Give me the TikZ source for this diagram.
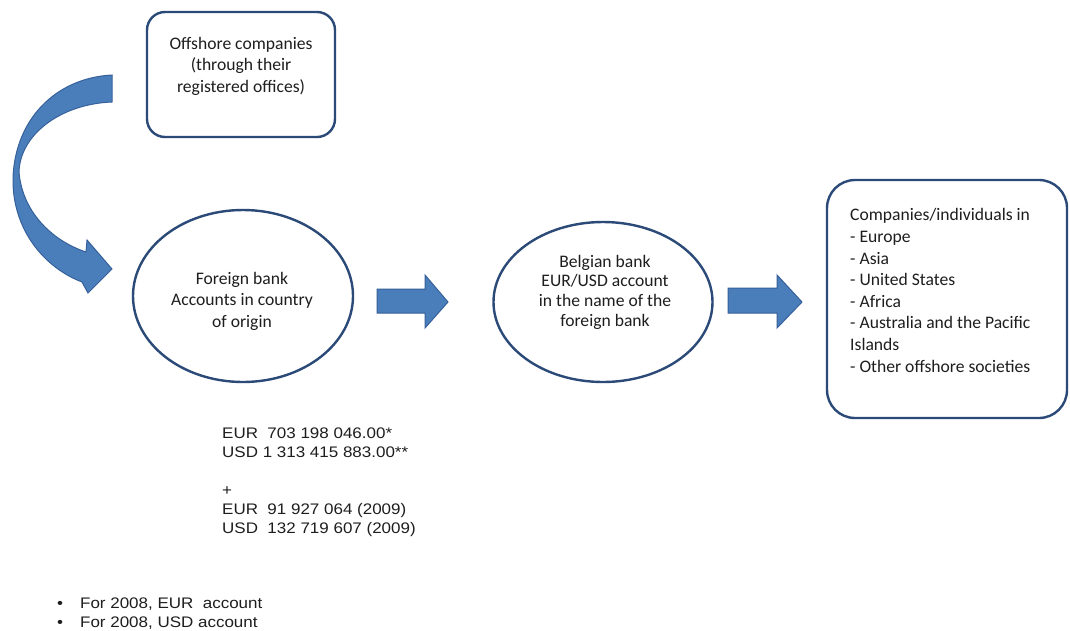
\documentclass[tikz,border=0pt]{standalone}
\usepackage{fontspec}
\setmainfont{Carlito}
\newfontfamily\arialf[FakeStretch=1.11]{Liberation Sans}
\usetikzlibrary{shapes.geometric}
\definecolor{edgeblue}{HTML}{2C4A78}
\definecolor{arrowfill}{HTML}{4A7EBB}
\definecolor{arrowedge}{HTML}{36609A}
\definecolor{txt}{HTML}{1E1E1E}
\begin{document}
\begin{tikzpicture}[x=1pt,y=-1pt,
  box/.style={draw=edgeblue, line width=2.4pt, rounded corners=18pt, inner sep=0pt},
  oval/.style={ellipse, draw=edgeblue, line width=2.4pt, inner sep=0pt},
  lbl/.style={font=\fontsize{17.6}{21.6}\selectfont, text=txt, align=center, inner sep=0pt},
  blockarrow/.style={fill=arrowfill, draw=arrowedge, line width=1pt, line join=miter},
  numtxt/.style={font=\arialf\fontsize{15.3}{19}\selectfont, text=txt, align=left, inner sep=0pt}]
\useasboundingbox[fill=white] (0,0) rectangle (1070,630);

% top box
\node[box, minimum width=188pt, minimum height=125pt] (offshore) at (241,74.5) {};
\node[lbl] (offshoretxt) at (241,66) {Offshore companies\\(through their\\registered offices)};

% curved arrow
\draw[blockarrow] (112,75) .. controls (55,78) and (15,120) .. (13,178)
  .. controls (12,230) and (45,268) .. (82,282) -- (88,293) -- (112,269) -- (87,240) -- (86,252)
  .. controls (50,240) and (22,210) .. (19,172)
  .. controls (20,135) and (60,104) .. (112,102) -- cycle;

% foreign bank
\node[oval, minimum width=220pt, minimum height=172pt] (foreign) at (243,296) {};
\node[lbl] (foreigntxt) at (242,301) {Foreign bank\\Accounts in country\\of origin};

% arrow 1
\draw[blockarrow] (377,289) -- (425,289) -- (425,275) -- (448,302) -- (425,328) -- (425,313) -- (377,313) -- cycle;

% belgian bank
\node[oval, minimum width=219pt, minimum height=160pt] (belgian) at (603,302) {};
\node[lbl, font=\fontsize{17.6}{19.6}\selectfont] (belgiantxt) at (605,292) {Belgian bank\\EUR/USD account\\in the name of the\\foreign bank};

% arrow 2
\draw[blockarrow] (728,288) -- (777,288) -- (777,275) -- (802,302) -- (777,328) -- (777,313) -- (728,313) -- cycle;

% destination box
\node[box, rounded corners=28pt, minimum width=240pt, minimum height=238pt] (dest) at (947,299) {};
\node[lbl, align=left, anchor=north west] (desttxt) at (850,208.5) {Companies/individuals in\\- Europe\\- Asia\\- United States\\- Africa\\- Australia and the Pacific\\Islands\\- Other offshore societies};

% amounts
\node[numtxt, anchor=north west] (amounts) at (222,427.5) {EUR\ \ 703 198 046.00*\\USD\ 1 313 415 883.00**\\[19pt]+\\EUR\ \ 91 927 064 (2009)\\USD\ \ 132 719 607 (2009)};

% footnotes
\node[numtxt, anchor=north west] (note1) at (57,597.5) {\textbullet\hspace{17pt}For 2008, EUR\ \ account};
\node[numtxt, anchor=north west] (note2) at (57,616.5) {\textbullet\hspace{17pt}For 2008, USD account};
\end{tikzpicture}
\end{document}
